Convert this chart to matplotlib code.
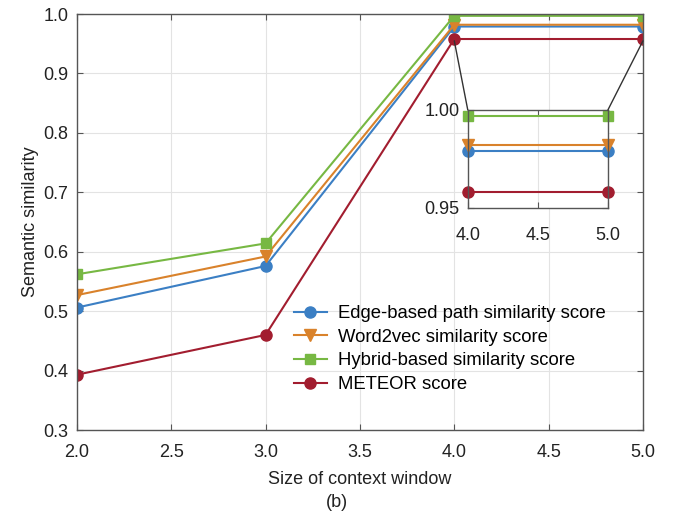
import numpy as np
import matplotlib.pyplot as plt
from matplotlib.patches import ConnectionPatch

plt.rcParams['font.family'] = ['Liberation Sans', 'DejaVu Sans']

# 数据
window = [2.0, 3.0, 4.0, 5.0]
edge = [0.506, 0.576, 0.979, 0.979]
word2vec = [0.527, 0.592, 0.982, 0.982]
hybrid = [0.562, 0.614, 0.997, 0.997]
meteor = [0.393, 0.460, 0.958, 0.958]

names = ['Edge-based path similarity score', 'Word2vec similarity score',
         'Hybrid-based similarity score', 'METEOR score']
colors = ['#3b7fc4', '#d9822b', '#77b843', '#a21d2f']
markers = ['o', 'v', 's', 'o']
msizes = [8, 9, 7, 8]
series = [edge, word2vec, hybrid, meteor]

fig = plt.figure(figsize=(6.74, 5.11), dpi=100)
ax = fig.add_axes([0.114, 0.1585, 0.840, 0.814])


def style(a, fs, xpad):
    for s in a.spines.values():
        s.set_color('#555555')
        s.set_linewidth(1.0)
    a.tick_params(direction='in', colors='#555555', labelcolor='#222222',
                  labelsize=fs, length=4, top=True, right=True)
    a.tick_params(axis='x', pad=xpad)
    a.tick_params(axis='y', pad=6)
    a.grid(True, color='#e3e3e3', linewidth=0.8)
    a.set_axisbelow(True)


for y, c, m, ms, n in zip(series, colors, markers, msizes, names):
    ax.plot(window, y, color=c, marker=m, markersize=ms, linewidth=1.5, label=n)

ax.set_xlim(2.0, 5.0)
ax.set_ylim(0.3, 1.0)
ax.set_xticks(np.arange(2.0, 5.01, 0.5))
ax.set_xticklabels(['%.1f' % v for v in np.arange(2.0, 5.01, 0.5)])
ax.set_yticks(np.arange(0.3, 1.001, 0.1))
ax.set_yticklabels(['%.1f' % v for v in np.arange(0.3, 1.001, 0.1)])
style(ax, 13, 10)
ax.set_xlabel('Size of context window', fontsize=13, color='#222222', labelpad=7)
ax.set_ylabel('Semantic similarity', fontsize=13, color='#222222', labelpad=3)
ax.legend(loc='upper left', bbox_to_anchor=(0.37, 0.318), frameon=False,
          fontsize=13.3, handlelength=1.8, handletextpad=0.6, labelspacing=0.36,
          borderaxespad=0)
fig.text(0.5, 0.008, '(b)', ha='center', fontsize=13, color='#222222')

# 局部放大
axin = fig.add_axes([0.694, 0.593, 0.208, 0.192])
for y, c, m, ms in zip(series, colors, markers, msizes):
    axin.plot(window[2:], y[2:], color=c, marker=m, markersize=ms, linewidth=1.5,
              clip_on=False)
axin.set_xlim(4.0, 5.0)
axin.set_ylim(0.95, 1.0)
axin.set_xticks([4.0, 4.5, 5.0])
axin.set_xticklabels(['4.0', '4.5', '5.0'])
axin.set_yticks([0.95, 1.0])
axin.set_yticklabels(['0.95', '1.00'])
style(axin, 13, 14)
axin.grid(axis='y', visible=False)

for xa, xb in [(4.0, 4.0), (5.0, 5.0)]:
    con = ConnectionPatch(xyA=(xa, 0.955), coordsA=ax.transData,
                          xyB=(xb, 1.0), coordsB=axin.transData,
                          color='#333333', linewidth=1.0)
    fig.add_artist(con)

fig.savefig('out.png', dpi=100)
